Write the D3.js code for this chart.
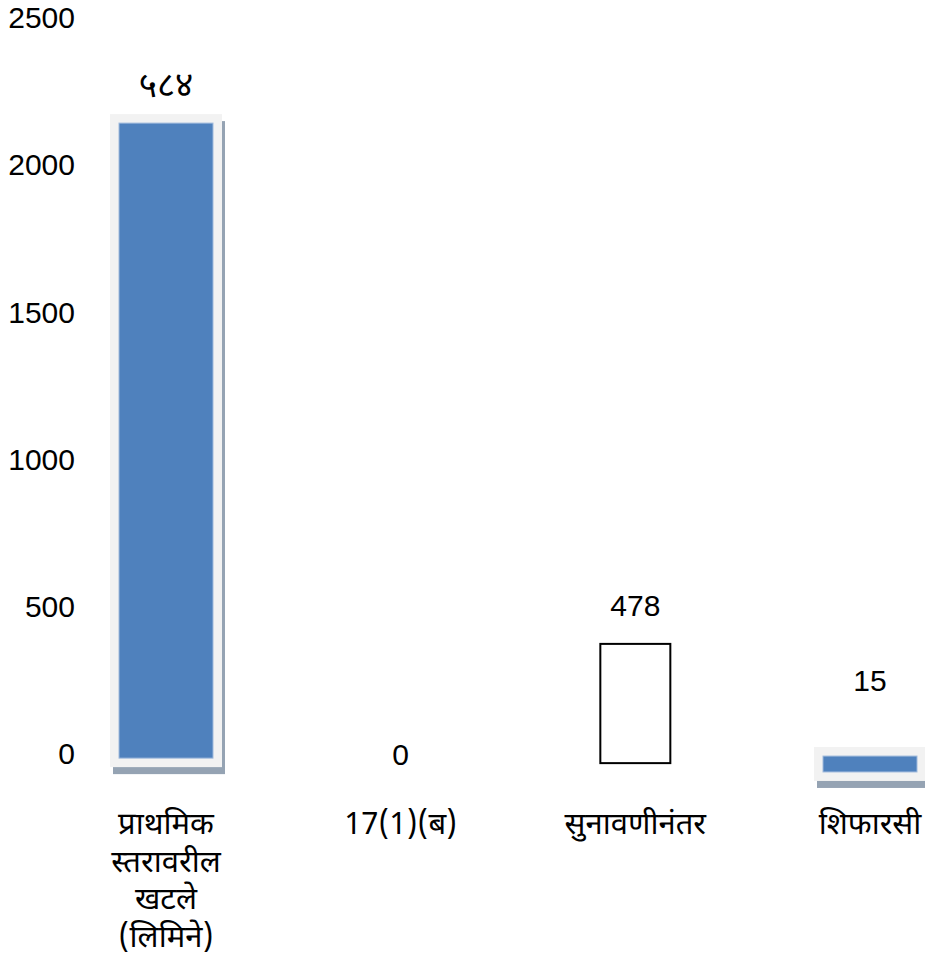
<!DOCTYPE html>
<html><head><meta charset="utf-8">
<script src="https://cdn.jsdelivr.net/npm/d3@7"></script>
<style>
html,body{margin:0;padding:0;background:#fff;}
svg{display:block;}
</style></head>
<body>
<svg id="c" width="925" height="971"></svg>
<script>
// ---- data ----
const categories = ["प्राथमिक स्तरावरील खटले (लिमिने)", "17(1)(ब)", "सुनावणीनंतर", "शिफारसी"];
const categoryLines = [["प्राथमिक", "स्तरावरील", "खटले", "(लिमिने)"], ["17(1)(ब)"], ["सुनावणीनंतर"], ["शिफारसी"]];
const valueLabels = ["५८४", "0", "478", "15"];
const barHigh = [2143, 0, 374, -7];
const barLow = [-14, 0, -31, -61];
const labelAt = [2272, 0, 506, 248];
const barKind = ["filled", "none", "outline", "filled"];
const yTicks = [0, 500, 1000, 1500, 2000, 2500];

// ---- layout ----
const svg = d3.select("#c");
const y = d3.scaleLinear().domain([0, 2500]).range([754, 18]);
const x = d3.scalePoint().domain(categories).range([166, 870]).padding(0);

const latin = "'Liberation Sans', Arial, sans-serif";
const deva = "'Noto Sans Devanagari', 'Lohit Devanagari', 'Noto Sans', sans-serif";

// y axis (labels only)
const ax = svg.append("g").attr("transform", "translate(75,0)")
  .call(d3.axisLeft(y).tickValues(yTicks).tickSize(0).tickPadding(0).tickFormat(d3.format("d")));
ax.select(".domain").remove();
ax.selectAll("text").attr("font-family", latin).attr("font-size", 30).attr("fill", "#000");

const data = categories.map((c, i) => ({c, i, hi: barHigh[i], lo: barLow[i], kind: barKind[i], label: valueLabels[i], at: labelAt[i]}));

// filled bars with frame and shadow
const filled = data.filter(d => d.kind === "filled");
const bw = 94, pad = 9;
const g = svg.append("g");
filled.forEach(d => {
  const cx = x(d.c);
  const top = y(d.hi), bot = y(d.lo);
  g.append("rect").attr("x", cx - bw/2 - pad + 3).attr("y", top - pad + 7)
    .attr("width", bw + 2*pad).attr("height", bot - top + 2*pad).attr("fill", "#95a3b3");
  g.append("rect").attr("x", cx - bw/2 - pad).attr("y", top - pad)
    .attr("width", bw + 2*pad).attr("height", bot - top + 2*pad).attr("fill", "#f2f2f2");
  g.append("rect").attr("x", cx - bw/2).attr("y", top)
    .attr("width", bw).attr("height", bot - top).attr("fill", "#4f81bd")
    .attr("stroke", "#9fb9dc").attr("stroke-width", 1);
});

// outline bars
const ow = 70;
g.selectAll("rect.outline").data(data.filter(d => d.kind === "outline")).join("rect")
  .attr("class", "outline")
  .attr("x", d => x(d.c) - ow/2).attr("y", d => y(d.hi))
  .attr("width", ow).attr("height", d => y(d.lo) - y(d.hi))
  .attr("fill", "#fff").attr("stroke", "#000").attr("stroke-width", 2);

// value labels
svg.append("g").selectAll("text").data(data).join("text")
  .attr("x", d => x(d.c)).attr("y", d => y(d.at)).attr("dy", "0.35em")
  .attr("text-anchor", "middle")
  .attr("font-family", d => /[0-9]/.test(d.label) ? latin : deva)
  .attr("font-size", d => /[0-9]/.test(d.label) ? 30 : 35).attr("fill", "#000")
  .text(d => d.label);

// category labels
const cl = svg.append("g").selectAll("text").data(data).join("text")
  .attr("x", d => x(d.c)).attr("y", 823)
  .attr("text-anchor", "middle")
  .attr("font-family", deva).attr("font-size", 31).attr("fill", "#000");
cl.selectAll("tspan").data(d => categoryLines[d.i].map(t => ({t, cx: x(d.c)}))).join("tspan")
  .attr("x", t => t.cx).attr("dy", (t, k) => k === 0 ? "0.35em" : "1.22em")
  .text(t => t.t);
</script>
</body></html>
